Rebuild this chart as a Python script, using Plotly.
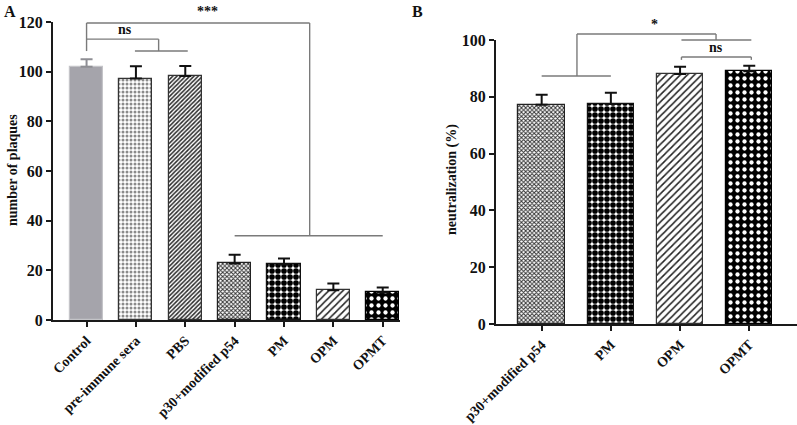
import plotly.graph_objects as go

# ---- data ----
cats_a = ["Control", "pre-immune sera", "PBS", "p30+modified p54", "PM", "OPM", "OPMT"]
vals_a = [102.0, 97.2, 98.3, 22.8, 22.4, 12.0, 11.1]
err_a = [3.0, 5.0, 4.0, 3.5, 2.4, 2.7, 2.0]
yticks_a = [0, 20, 40, 60, 80, 100, 120]

cats_b = ["p30+modified p54", "PM", "OPM", "OPMT"]
vals_b = [77.2, 77.5, 88.0, 89.0]
err_b = [3.5, 3.9, 2.6, 1.9]
yticks_b = [0, 20, 40, 60, 80, 100]

FONT = "Liberation Serif"
W, H = 797, 425

xr_a = [-0.68, 6.35]
yr_a = [0, 120]
xr_b = [-0.66, 3.69]
yr_b = [0, 100]

patterns_a = [
    dict(color="#a5a4ab", line="#c4c4c8", shape="", fg="#000", size=8, sol=0.3),
    dict(color="white", line="#333", shape=".", fg="#8a8a8a", size=4, sol=0.45),
    dict(color="white", line="#333", shape="/", fg="#2a2a2a", size=3, sol=0.5),
    dict(color="white", line="#222", shape="x", fg="#333", size=3, sol=0.55),
    dict(color="white", line="#111", shape=".", fg="#000", size=6, sol=0.7),
    dict(color="white", line="#333", shape="/", fg="#222", size=5, sol=0.3),
    dict(color="#000", line="#000", shape=".", fg="#fff", size=7, sol=0.3),
]
patterns_b = patterns_a[3:]

fig = go.Figure()


def add_bars(cats, vals, errs, pats, xa, ya, ctrl_grey=False):
    for i, (c, v, e, p) in enumerate(zip(cats, vals, errs, pats)):
        pattern = dict(shape=p["shape"], fgcolor=p["fg"], bgcolor=p["color"], size=p["size"],
                       solidity=p["sol"], fillmode="replace", fgopacity=1)
        ecol = "#8e8e94" if (ctrl_grey and i == 0) else "#111"
        fig.add_trace(go.Bar(
            x=[i], y=[v], width=0.67, name=c, showlegend=False,
            marker=dict(color=p["color"], line=dict(color=p["line"], width=1.2), pattern=pattern),
            error_y=dict(type="data", array=[e], arrayminus=[0], symmetric=False,
                         color=ecol, thickness=2, width=6),
            xaxis=xa, yaxis=ya,
        ))


add_bars(cats_a, vals_a, err_a, patterns_a, "x", "y", ctrl_grey=True)
add_bars(cats_b, vals_b, err_b, patterns_b, "x2", "y2")

axis_common = dict(showline=True, linecolor="#1a1a1a", linewidth=2, ticks="outside",
                   ticklen=5, tickwidth=2, tickcolor="#1a1a1a", showgrid=False, zeroline=False,
                   automargin=False,
                   tickfont=dict(family=FONT, size=16, color="#111", weight=700))
xtickfont = dict(family=FONT, size=14, color="#111", weight=700)

fig.update_layout(
    width=W, height=H, margin=dict(l=0, r=0, t=0, b=0),
    paper_bgcolor="white", plot_bgcolor="white", bargap=0,
    xaxis=dict(domain=[53 / W, 400 / W], range=xr_a, tickvals=list(range(len(cats_a))),
               ticktext=cats_a, tickangle=-45, anchor="y", **{**axis_common, "tickfont": xtickfont}),
    yaxis=dict(domain=[1 - 320 / H, 1 - 22 / H], range=yr_a, tickvals=yticks_a, anchor="x",
               **axis_common),
    xaxis2=dict(domain=[496 / W, 1.0], range=xr_b, tickvals=list(range(len(cats_b))),
                ticktext=cats_b, tickangle=-45, anchor="y2", **{**axis_common, "tickfont": xtickfont}),
    yaxis2=dict(domain=[1 - 324 / H, 1 - 40 / H], range=yr_b, tickvals=yticks_b, anchor="x2",
                **axis_common),
)


def dx(v, r):
    return (v - r[0]) / (r[1] - r[0])


def seg(x0, y0, x1, y1, xa, ya, xr, yr):
    fig.add_shape(type="line", xref=xa + " domain", yref=ya + " domain",
                  x0=dx(x0, xr), y0=dx(y0, yr), x1=dx(x1, xr), y1=dx(y1, yr),
                  line=dict(color="#7a7a7a", width=1.4))


def label(x, y, text, xa, ya, xr, yr, size=14):
    fig.add_annotation(x=dx(x, xr), y=dx(y, yr), xref=xa + " domain", yref=ya + " domain",
                       text=text, showarrow=False, yanchor="bottom", xanchor="center",
                       font=dict(family=FONT, size=size, color="#111", weight=700))


# panel A brackets
A = ("x", "y", xr_a, yr_a)
seg(0, 108.3, 0, 119.6, *A)
seg(0, 119.6, 4.52, 119.6, *A)
seg(4.52, 119.6, 4.52, 33.9, *A)
seg(3, 33.9, 6, 33.9, *A)
seg(0, 113.1, 1.46, 113.1, *A)
seg(1.46, 113.1, 1.46, 108.3, *A)
seg(0.98, 108.3, 2.05, 108.3, *A)
label(2.44, 120.3, "***", *A)
label(0.78, 113.0, "ns", *A)

# panel B brackets
B = ("x2", "y2", xr_b, yr_b)
seg(0, 87.3, 1, 87.3, *B)
seg(0.51, 87.3, 0.51, 102.1, *B)
seg(0.51, 102.1, 2.52, 102.1, *B)
seg(2.52, 102.1, 2.52, 100, *B)
seg(2.02, 100, 3.03, 100, *B)
seg(2.02, 94.0, 3.03, 94.0, *B)
seg(2.02, 94.0, 2.02, 93.0, *B)
seg(3.03, 94.0, 3.03, 93.0, *B)
label(1.63, 102.2, "*", *B)
label(2.52, 94.0, "ns", *B)

title_font = dict(family=FONT, size=14, color="#111", weight=700)
fig.add_annotation(x=12 / W, y=1 - 170 / H, xref="paper", yref="paper", text="number of plaques",
                   textangle=-90, showarrow=False, xanchor="center", yanchor="middle", font=title_font)
fig.add_annotation(x=452 / W, y=1 - 180 / H, xref="paper", yref="paper", text="neutralization (%)",
                   textangle=-90, showarrow=False, xanchor="center", yanchor="middle", font=title_font)

fig.add_annotation(x=2 / W, y=1 - 1 / H, xref="paper", yref="paper", text="A", showarrow=False,
                   xanchor="left", yanchor="top", font=dict(family=FONT, size=16, color="#111", weight=700))
fig.add_annotation(x=410 / W, y=1 - 1 / H, xref="paper", yref="paper", text="B", showarrow=False,
                   xanchor="left", yanchor="top", font=dict(family=FONT, size=16, color="#111", weight=700))

fig.write_html("out.html", config={"displayModeBar": False},
               post_script="document.body.style.margin='0px';document.body.style.overflow='hidden';")
